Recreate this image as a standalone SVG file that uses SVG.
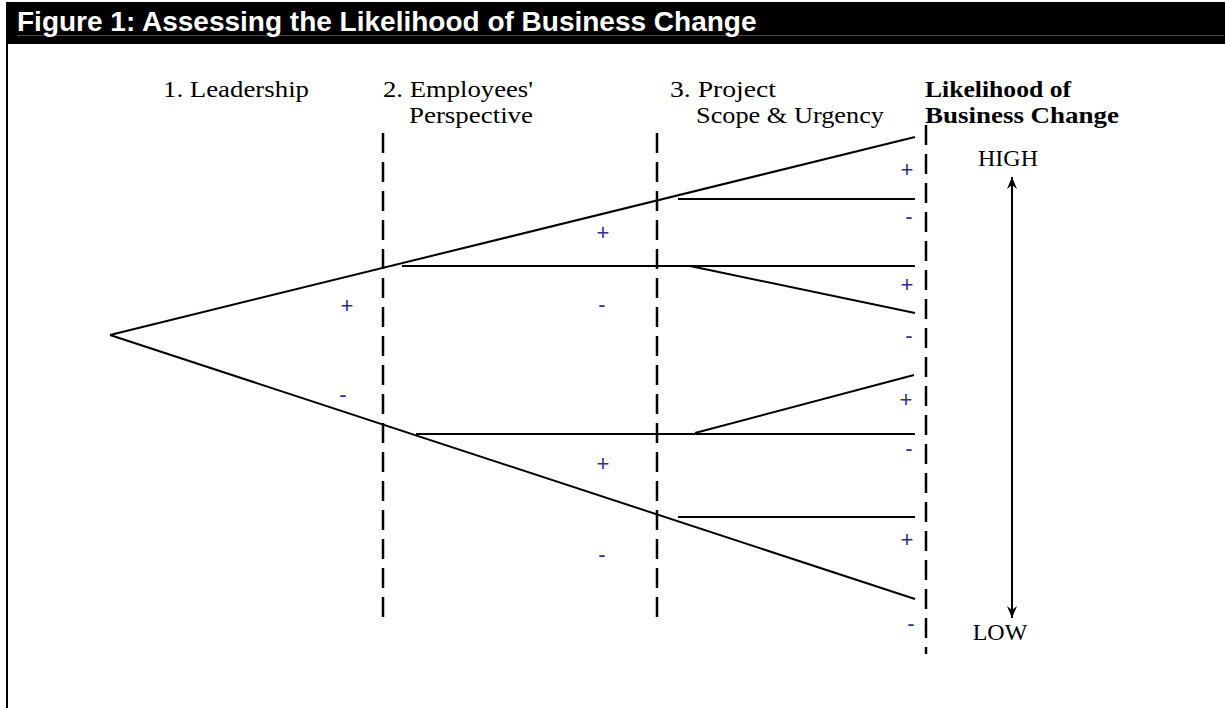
<svg xmlns="http://www.w3.org/2000/svg" width="1225" height="708" viewBox="0 0 1225 708">
  <defs>
    <style>
      .title { font-family: "Liberation Sans", Arial, sans-serif; font-weight: bold; font-size: 28px; fill: #ffffff; }
      .head { font-family: "Liberation Serif", "Times New Roman", serif; font-size: 24px; fill: #000000; }
      .headb { font-family: "Liberation Serif", "Times New Roman", serif; font-size: 24px; font-weight: bold; fill: #000000; }
      .scale { font-family: "Liberation Serif", "Times New Roman", serif; font-size: 24px; fill: #000000; text-anchor: middle; }
      .sign { font-family: "Liberation Sans", Arial, sans-serif; font-size: 22px; fill: #2e2e90; text-anchor: middle; }
      .branch { stroke: #000000; stroke-width: 2; fill: none; stroke-linecap: butt; }
      .divider { stroke: #000000; stroke-width: 2.5; stroke-dasharray: 20 9; fill: none; }
    </style>
    <marker id="arrowHead" viewBox="0 0 14 12" refX="13" refY="6" markerWidth="14" markerHeight="12" markerUnits="userSpaceOnUse" orient="auto-start-reverse">
      <path d="M13 6 L1 1 L5 6 L1 11 Z" fill="#000000"/>
    </marker>
  </defs>

  <rect x="0" y="0" width="1225" height="708" fill="#ffffff"/>

  <!-- header bar -->
  <g id="header">
    <rect x="6" y="2" width="1219" height="42" fill="#000000"/>
    <line x1="17" y1="35.5" x2="1224" y2="35.5" stroke="#4a4a4a" stroke-width="1"/>
    <text class="title" x="17" y="31">Figure 1: Assessing the Likelihood of Business Change</text>
  </g>

  <!-- left frame edge -->
  <line x1="7" y1="44" x2="7" y2="708" stroke="#000000" stroke-width="2"/>

  <!-- column headings (glyphs slightly widened to fill each column) -->
  <g id="col-leadership">
    <text class="head" x="163" y="97" textLength="146" lengthAdjust="spacingAndGlyphs">1. Leadership</text>
  </g>
  <g id="col-employees">
    <text class="head" x="383" y="97" textLength="150" lengthAdjust="spacingAndGlyphs">2. Employees'</text>
    <text class="head" x="409" y="123" textLength="124" lengthAdjust="spacingAndGlyphs">Perspective</text>
  </g>
  <g id="col-project">
    <text class="head" x="670" y="97" textLength="106" lengthAdjust="spacingAndGlyphs">3. Project</text>
    <text class="head" x="696" y="123" textLength="188" lengthAdjust="spacingAndGlyphs">Scope &amp; Urgency</text>
  </g>
  <g id="col-likelihood">
    <text class="headb" x="925" y="97" textLength="146" lengthAdjust="spacingAndGlyphs">Likelihood of</text>
    <text class="headb" x="925" y="123" textLength="194" lengthAdjust="spacingAndGlyphs">Business Change</text>
  </g>

  <!-- stage dividers -->
  <g id="dividers">
    <line class="divider" x1="383" y1="133" x2="383" y2="622"/>
    <line class="divider" x1="657" y1="133" x2="657" y2="622"/>
    <line class="divider" x1="926" y1="125" x2="926" y2="654"/>
  </g>

  <!-- decision tree branches -->
  <g id="connectors">
    <line class="branch" x1="110" y1="335" x2="915" y2="137"/>
    <line class="branch" x1="110" y1="335" x2="915" y2="599"/>
    <line class="branch" x1="402" y1="266" x2="915" y2="266"/>
    <line class="branch" x1="416" y1="434" x2="915" y2="434"/>
    <line class="branch" x1="678" y1="199" x2="915" y2="199"/>
    <line class="branch" x1="690" y1="266" x2="915" y2="313"/>
    <line class="branch" x1="695" y1="433" x2="914" y2="375"/>
    <line class="branch" x1="678" y1="517" x2="915" y2="517"/>
  </g>

  <!-- branch outcome signs -->
  <g id="signs">
    <text class="sign" x="347" y="313">+</text>
    <text class="sign" x="343" y="402">-</text>
    <text class="sign" x="603" y="240">+</text>
    <text class="sign" x="602" y="312">-</text>
    <text class="sign" x="603" y="471">+</text>
    <text class="sign" x="602" y="562">-</text>
    <text class="sign" x="907" y="177">+</text>
    <text class="sign" x="909" y="224">-</text>
    <text class="sign" x="907" y="292">+</text>
    <text class="sign" x="909" y="343">-</text>
    <text class="sign" x="906" y="407">+</text>
    <text class="sign" x="909" y="456">-</text>
    <text class="sign" x="907" y="547">+</text>
    <text class="sign" x="911" y="631">-</text>
  </g>

  <!-- likelihood scale -->
  <g id="scale">
    <line x1="1012" y1="177" x2="1012" y2="618" stroke="#000000" stroke-width="2" marker-start="url(#arrowHead)" marker-end="url(#arrowHead)"/>
    <text class="scale" x="1008" y="166">HIGH</text>
    <text class="scale" x="1000" y="640">LOW</text>
  </g>
</svg>
